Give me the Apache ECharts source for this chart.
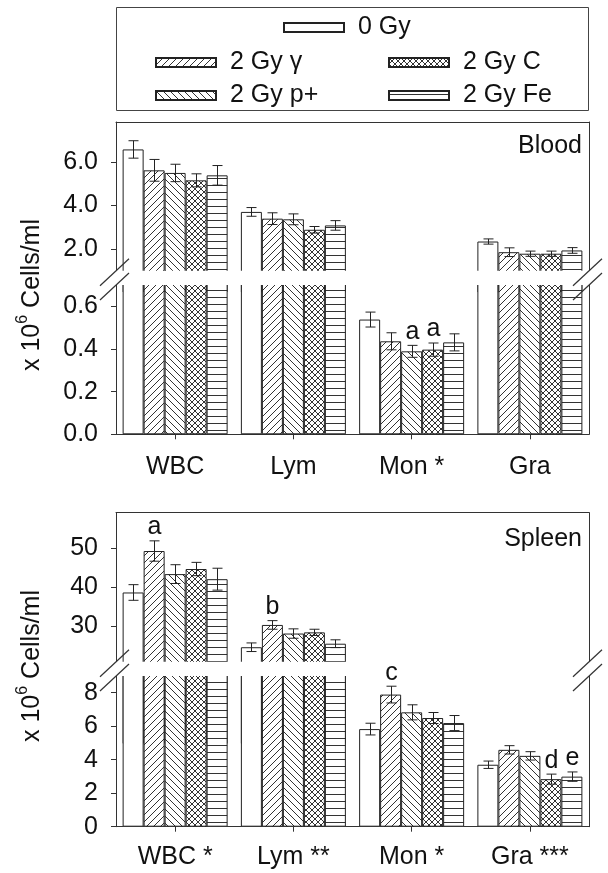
<!DOCTYPE html>
<html>
<head>
<meta charset="utf-8">
<script src="https://cdn.jsdelivr.net/npm/echarts@6/dist/echarts.min.js"></script>
<style>
  html, body { margin: 0; padding: 0; background: #fff; }
  #chart { width: 608px; height: 873px; }
</style>
</head>
<body>
<div id="chart"></div>
<script>
var FONT = '"Liberation Sans", Arial, sans-serif';

var groups = ['0 Gy', '2 Gy γ', '2 Gy p+', '2 Gy C', '2 Gy Fe'];
var bloodCats = ['WBC', 'Lym', 'Mon *', 'Gra'];
var spleenCats = ['WBC *', 'Lym **', 'Mon *', 'Gra ***'];

// blood, x10^6 cells/ml (order WBC, Lym, Mon, Gra)
var blood0Gy    = [6.57, 3.70, 0.538, 2.34];
var bloodGamma  = [5.61, 3.39, 0.436, 1.85];
var bloodProton = [5.49, 3.36, 0.389, 1.78];
var bloodCarbon = [5.15, 2.88, 0.397, 1.78];
var bloodIron   = [5.38, 3.08, 0.431, 1.93];
var bloodErr0Gy    = [0.40, 0.20, 0.035, 0.12];
var bloodErrGamma  = [0.50, 0.27, 0.040, 0.20];
var bloodErrProton = [0.40, 0.25, 0.028, 0.12];
var bloodErrCarbon = [0.30, 0.15, 0.031, 0.12];
var bloodErrIron   = [0.45, 0.22, 0.040, 0.13];
var bloodMarks = [['', '', '', ''], ['', '', '', ''], ['', '', 'a', ''], ['', '', 'a', ''], ['', '', '', '']];

// spleen
var spleen0Gy    = [38.7, 24.7, 5.83, 3.70];
var spleenGamma  = [49.3, 30.4, 7.89, 4.59];
var spleenProton = [43.4, 28.2, 6.83, 4.23];
var spleenCarbon = [44.7, 28.5, 6.49, 2.84];
var spleenIron   = [42.1, 25.6, 6.19, 2.99];
var spleenErr0Gy    = [2.0, 1.1, 0.35, 0.22];
var spleenErrGamma  = [2.6, 1.1, 0.50, 0.25];
var spleenErrProton = [2.4, 1.2, 0.45, 0.25];
var spleenErrCarbon = [1.7, 0.8, 0.33, 0.30];
var spleenErrIron   = [2.8, 1.0, 0.45, 0.28];
var spleenMarks = [['', '', '', ''], ['a', 'b', 'c', ''], ['', '', '', ''], ['', '', '', 'd'], ['', '', '', 'e']];

// tick labels, lower and upper part of the broken axis
var bloodTicksLo = [0, 0.2, 0.4, 0.6];
var bloodTicksHi = [2, 4, 6];
var spleenTicksLo = [0, 2, 4, 6, 8];
var spleenTicksHi = [30, 40, 50];
// axis break: lower part ends at [0], upper part starts at [1]
var bloodBreak = [0.7, 1.0];
var spleenBreak = [9, 21];

var BW = 21;           // bar width
var L = 116, R = 19;   // plot left / right margin

function pattern(kind) {
  var s = kind == 'cross' ? 6 : 7;
  var c = document.createElement('canvas');
  c.width = s; c.height = s;
  var ctx = c.getContext('2d');
  ctx.fillStyle = '#fff';
  ctx.fillRect(0, 0, s, s);
  ctx.strokeStyle = '#333';
  ctx.fillStyle = '#333';
  ctx.lineWidth = 1;
  ctx.beginPath();
  if (kind == 'up' || kind == 'cross') {
    ctx.moveTo(0, s); ctx.lineTo(s, 0);
    ctx.moveTo(-1, 1); ctx.lineTo(1, -1);
    ctx.moveTo(s - 1, s + 1); ctx.lineTo(s + 1, s - 1);
  }
  if (kind == 'down' || kind == 'cross') {
    ctx.moveTo(0, 0); ctx.lineTo(s, s);
    ctx.moveTo(-1, s - 1); ctx.lineTo(1, s + 1);
    ctx.moveTo(s - 1, -1); ctx.lineTo(s + 1, 1);
  }
  ctx.stroke();
  if (kind == 'horiz') ctx.fillRect(0, 3, s, 1);
  return { image: c, repeat: 'repeat' };
}
var fills = ['#fff', pattern('up'), pattern('down'), pattern('cross'), pattern('horiz')];

var panels = [
  { title: 'Blood', cats: bloodCats,
    vals: [blood0Gy, bloodGamma, bloodProton, bloodCarbon, bloodIron],
    errs: [bloodErr0Gy, bloodErrGamma, bloodErrProton, bloodErrCarbon, bloodErrIron],
    marks: bloodMarks, brk: bloodBreak, ticksLo: bloodTicksLo, ticksHi: bloodTicksHi,
    top: 122, gapTop: 270.7, gapBottom: 285, bottom: 434.3, hiMax: 7.83, digits: 1,
    titleY: 146, nameY: 295, labelMargin: 20 },
  { title: 'Spleen', cats: spleenCats,
    vals: [spleen0Gy, spleenGamma, spleenProton, spleenCarbon, spleenIron],
    errs: [spleenErr0Gy, spleenErrGamma, spleenErrProton, spleenErrCarbon, spleenErrIron],
    marks: spleenMarks, brk: spleenBreak, ticksLo: spleenTicksLo, ticksHi: spleenTicksHi,
    top: 512.7, gapTop: 661.7, gapBottom: 676, bottom: 826.7, hiMax: 59.1, digits: 0,
    titleY: 539, nameY: 666, labelMargin: 18 }
];

function errRender(i, marks, lo, hi) {
  return function (params, api) {
    var j = api.value(0), v = api.value(1), e = api.value(2);
    if (v < lo || v > hi) return null;
    var x = Math.round(api.coord([j, v])[0] + (i - 2) * BW) + 0.5;
    var y1 = api.coord([j, v + e])[1];
    var y2 = api.coord([j, v - e])[1];
    var st = { stroke: '#222', lineWidth: 1 };
    var kids = [
      { type: 'line', shape: { x1: x, y1: y1, x2: x, y2: y2 }, style: st },
      { type: 'line', shape: { x1: x - 5, y1: y1, x2: x + 5, y2: y1 }, style: st },
      { type: 'line', shape: { x1: x - 5, y1: y2, x2: x + 5, y2: y2 }, style: st }
    ];
    var m = marks[params.dataIndex];
    if (m) {
      kids.push({ type: 'text', style: { text: m, x: x, y: y1 - 1, align: 'center', verticalAlign: 'bottom',
        fontSize: 25, fontFamily: FONT, fill: '#111' } });
    }
    return { type: 'group', children: kids };
  };
}

var grid = [], xAxis = [], yAxis = [], series = [], elements = [];
var lineStyle = { color: '#333', width: 1 };

elements.push({ type: 'rect', z: 100, shape: { x: 116.5, y: 7.5, width: 472, height: 103 },
  style: { fill: 'none', stroke: '#444', lineWidth: 1 } });

panels.forEach(function (p, c) {
  var mid = (p.gapTop + p.gapBottom) / 2;
  var hiMin = p.brk[1] - (mid - p.gapTop) * (p.hiMax - p.brk[1]) / (p.gapTop - p.top);
  var loMax = p.brk[0] * (p.bottom - mid) / (p.bottom - p.gapBottom);
  var parts = [
    { top: p.top, height: mid - p.top, min: hiMin, max: p.hiMax, ticks: p.ticksHi, lo: p.brk[1], hi: Infinity },
    { top: mid, height: p.bottom - mid, min: 0, max: loMax, ticks: p.ticksLo, lo: -Infinity, hi: p.brk[0] }
  ];
  parts.forEach(function (part, k) {
    var g = grid.length;
    var isLow = k == 1;
    grid.push({ left: L, right: R, top: part.top, height: part.height });
    xAxis.push({
      type: 'category', gridIndex: g, data: p.cats, position: isLow ? 'bottom' : 'top',
      axisLine: { show: true, onZero: false, lineStyle: lineStyle },
      axisTick: { show: isLow, alignWithLabel: true, length: 5, lineStyle: lineStyle },
      axisLabel: { show: isLow, fontSize: 25, fontFamily: FONT, color: '#111', margin: p.labelMargin },
      splitLine: { show: false }
    });
    var ya = yAxis.length;
    yAxis.push({
      type: 'value', gridIndex: g, min: part.min, max: part.max, position: 'left',
      axisLine: { show: true, lineStyle: lineStyle },
      axisTick: { show: true, length: 5, customValues: part.ticks, lineStyle: lineStyle },
      axisLabel: { fontSize: 25, fontFamily: FONT, color: '#111', margin: 18, customValues: part.ticks,
        formatter: function (v) { return v.toFixed(p.digits); } },
      splitLine: { show: false }
    });
    yAxis.push({
      type: 'value', gridIndex: g, min: part.min, max: part.max, position: 'right',
      axisLine: { show: true, lineStyle: lineStyle },
      axisTick: { show: false }, axisLabel: { show: false }, splitLine: { show: false }
    });
    groups.forEach(function (name, i) {
      series.push({
        type: 'bar', name: name, xAxisIndex: g, yAxisIndex: ya,
        barWidth: BW, barGap: '0%', clip: false, silent: true,
        itemStyle: { color: fills[i], borderColor: '#222', borderWidth: 1 },
        data: p.vals[i].map(function (v) {
          if (isLow) return Math.min(v, part.max);
          return v > part.min ? v : '-';
        })
      });
    });
    groups.forEach(function (name, i) {
      // error bars and letters sit above the white gap of the axis break
      series.push({
        type: 'custom', xAxisIndex: g, yAxisIndex: ya, clip: false, silent: true, z: 110,
        renderItem: errRender(i, p.marks[i], part.lo, part.hi),
        data: p.vals[i].map(function (v, j) { return [j, v, p.errs[i][j]]; })
      });
    });
  });

  // white gap of the broken axis and the break marks
  elements.push({ type: 'rect', z: 100, shape: { x: 104, y: p.gapTop, width: 498, height: p.gapBottom - p.gapTop },
    style: { fill: '#fff' } });
  [L, 608 - R].forEach(function (x0) {
    [p.gapTop, p.gapBottom].forEach(function (y0) {
      elements.push({ type: 'line', z: 101,
        shape: { x1: x0 - 16, y1: y0 + 15, x2: x0 + 13, y2: y0 - 12 },
        style: { stroke: '#333', lineWidth: 1.2 } });
    });
  });
  elements.push({ type: 'text', z: 101, x: 582, y: p.titleY,
    style: { text: p.title, align: 'right', verticalAlign: 'middle', fontSize: 25, fontFamily: FONT, fill: '#111' } });
  elements.push({ type: 'text', z: 101, x: 30, y: p.nameY, rotation: Math.PI / 2,
    style: { text: '{n|x 10}{s|6}{n| Cells/ml}', align: 'center', verticalAlign: 'middle', fill: '#111',
      rich: { n: { fontSize: 25, fontFamily: FONT, lineHeight: 30, verticalAlign: 'bottom', fill: '#111' },
              s: { fontSize: 16, fontFamily: FONT, lineHeight: 16, verticalAlign: 'top', fill: '#111' } } } });
});

var legendText = { fontSize: 25, fontFamily: FONT, color: '#111', padding: [0, 0, 0, 9] };
var legendBase = { selectedMode: false, icon: 'rect', itemWidth: 60, itemHeight: 9, padding: 0,
  itemGap: 8, orient: 'vertical', textStyle: legendText };

var option = {
  animation: false,
  grid: grid,
  xAxis: xAxis,
  yAxis: yAxis,
  legend: [
    Object.assign({}, legendBase, { data: ['0 Gy'], left: 283, top: 15 }),
    Object.assign({}, legendBase, { data: ['2 Gy γ', '2 Gy p+'], left: 155, top: 50 }),
    Object.assign({}, legendBase, { data: ['2 Gy C', '2 Gy Fe'], left: 388, top: 50 })
  ],
  graphic: { elements: elements },
  series: series
};

var myChart = echarts.init(document.getElementById('chart'));
myChart.setOption(option);
</script>
</body>
</html>
